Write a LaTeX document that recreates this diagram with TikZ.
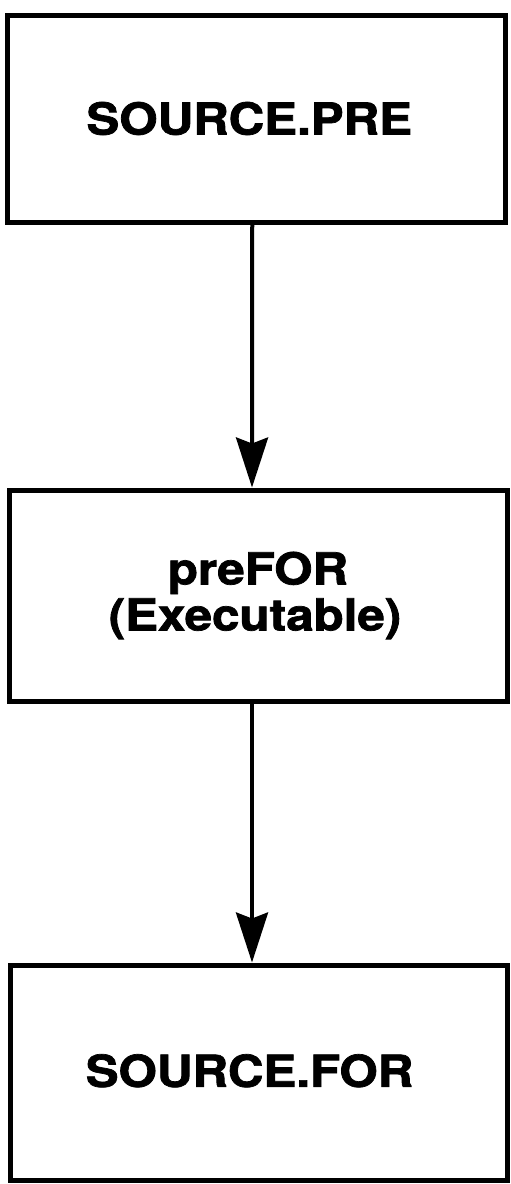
\documentclass[tikz,border=0pt]{standalone}
\usepackage{fontspec}
\setmainfont{TeX Gyre Heros}[BoldFeatures={FakeBold=1.6}]
\usetikzlibrary{arrows.meta}
\tikzset{
  box/.style={draw=black, line width=5pt, rectangle, inner sep=0pt, align=center,
    font=\fontsize{44}{46}\selectfont\bfseries},
  arr/.style={draw=black, line width=4pt, -{Stealth[length=50pt,width=32pt,inset=6pt]}}
}
\newcommand{\wide}[1]{\scalebox{1.12}[1]{#1}}
\begin{document}
\begin{tikzpicture}[x=1pt,y=-1pt]
\useasboundingbox (0,0) rectangle (511,1184);
\node[box, minimum width=497.5pt, minimum height=207pt] (top) at (256.25,118.5) {\hspace*{-14pt}\wide{SOURCE.PRE}};
\node[box, minimum width=498pt, minimum height=211pt] (mid) at (258,595.5) {\wide{preFOR}\\\hspace*{-6pt}\wide{(Executable)}};
\node[box, minimum width=497pt, minimum height=215pt] (bot) at (258.5,1072.5) {\hspace*{-18pt}\raisebox{4pt}{\wide{SOURCE.FOR}}};
\draw[arr] ([xshift=-4pt]top.south) -- ([xshift=-6pt]mid.north);
\draw[arr] ([xshift=-6pt]mid.south) -- ([xshift=-6.5pt]bot.north);
\end{tikzpicture}
\end{document}
